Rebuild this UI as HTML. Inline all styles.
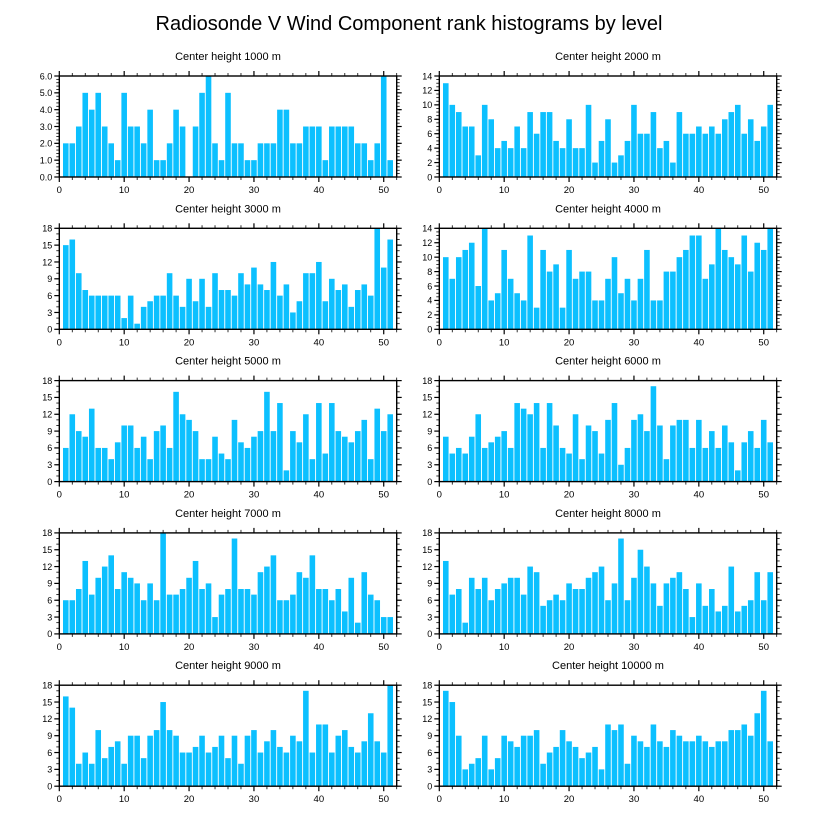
<!DOCTYPE html>
<html><head><meta charset="utf-8">
<style>
html,body{margin:0;padding:0;background:#fff;}
svg{display:block;font-family:"Liberation Sans",Arial,sans-serif;}
</style></head>
<body>
<svg id="chart" width="818" height="824" viewBox="0 0 818 824" xmlns="http://www.w3.org/2000/svg">
<text x="409" y="30" text-anchor="middle" font-size="20" fill="#000">Radiosonde V Wind Component rank histograms by level</text>
</svg>
<script>
const panelTitles = ["Center height 1000 m","Center height 2000 m","Center height 3000 m","Center height 4000 m","Center height 5000 m","Center height 6000 m","Center height 7000 m","Center height 8000 m","Center height 9000 m","Center height 10000 m"];
const h1000 = [2,2,3,5,4,5,3,2,1,5,3,3,2,4,1,1,2,4,3,0,3,5,6,2,1,5,2,2,1,1,2,2,2,4,4,2,2,3,3,3,1,3,3,3,3,2,2,1,2,6,1];
const h2000 = [13,10,9,7,7,3,10,8,4,5,4,7,4,9,6,9,9,5,4,8,4,4,10,2,5,8,2,3,5,10,6,6,9,4,5,2,9,6,6,7,6,7,6,8,9,10,6,8,5,7,10];
const h3000 = [15,16,10,7,6,6,6,6,6,2,6,1,4,5,6,6,10,6,4,9,5,9,4,10,7,7,6,10,8,11,8,7,12,6,8,3,5,10,10,12,5,9,7,8,4,7,8,6,18,11,16];
const h4000 = [10,7,10,11,12,6,14,4,5,11,7,5,4,13,3,11,8,9,3,11,7,8,8,4,4,7,10,5,7,4,7,11,4,4,8,8,10,11,13,13,7,9,14,11,10,9,13,8,12,11,14];
const h5000 = [6,12,9,8,13,6,6,4,7,10,10,6,8,4,9,10,6,16,12,11,9,4,4,8,5,4,11,7,6,8,9,16,9,14,2,9,7,12,4,14,5,14,9,8,7,9,11,4,13,9,12];
const h6000 = [8,5,6,5,8,12,6,7,8,9,6,14,13,12,14,6,14,10,6,5,12,4,10,9,5,11,14,3,6,11,12,9,17,10,4,10,11,11,6,11,6,9,6,10,7,2,7,9,6,11,7];
const h7000 = [6,6,8,13,7,10,12,14,8,11,10,9,6,9,6,18,7,7,8,10,13,8,9,3,7,8,17,8,8,7,11,12,14,6,6,7,11,10,14,8,8,6,8,4,10,2,11,7,6,3,3];
const h8000 = [13,7,8,2,10,8,10,6,8,9,10,10,7,12,11,5,6,7,6,9,8,8,10,11,12,6,9,17,6,10,15,12,9,5,9,10,11,8,3,9,5,8,4,5,12,4,5,6,11,6,11];
const h9000 = [16,14,4,6,4,10,5,7,8,4,9,9,5,9,10,15,10,9,6,6,7,9,6,7,9,5,9,4,9,10,6,8,10,7,6,9,8,17,6,11,11,6,9,10,7,6,8,13,8,6,18];
const h10000 = [17,15,9,3,4,5,9,3,5,9,8,7,9,9,10,4,6,7,10,8,7,5,6,7,3,11,10,11,4,9,8,7,11,8,7,10,9,8,8,9,8,7,8,8,10,10,11,9,13,17,8];
const yMaxes = [6,14,18,14,18,18,18,18,18,18];
const yMajorSteps = [1,2,3,2,3,3,3,3,3,3];
const yMinorSteps = [0.2,0.5,1,0.5,1,1,1,1,1,1];
const xTickLabels = [0,10,20,30,40,50];
const allSeries = [h1000,h2000,h3000,h4000,h5000,h6000,h7000,h8000,h9000,h10000];

const NS = "http://www.w3.org/2000/svg";
const svg = document.getElementById('chart');
function mk(tag, attrs, parent){
  const e = document.createElementNS(NS, tag);
  for (const k in attrs) e.setAttribute(k, attrs[k]);
  (parent||svg).appendChild(e);
  return e;
}
const colX = [59.3, 439.3];
const plotW = 337.4;
const rowY0 = 76, rowStep = 152.3, plotH = 101;
const xMax = 52;

allSeries.forEach((vals, p) => {
  const col = p % 2, row = Math.floor(p/2);
  const L = colX[col], T = rowY0 + row*rowStep, B = T + plotH, R = L + plotW;
  const ymax = yMaxes[p];
  const xs = v => L + v/xMax*plotW;
  const ys = v => B - v/ymax*plotH;
  const g = mk('g', {});
  
  
  const t = mk('text', {x:(L+R)/2, y:T-16, 'text-anchor':'middle', 'font-size':'11', fill:'#000'}, g);
  t.textContent = panelTitles[p];
  
  
  const bw = 0.86;
  vals.forEach((v, i) => {
    const c = i + 1;
    const r = mk('rect', {x:xs(c-bw/2), y:ys(v), width:xs(bw)-L, height:B-ys(v), fill:'#0cc0ff'}, g);
    
    
  });
  const frame = mk('rect', {x:L, y:T, width:plotW, height:plotH, fill:'none', stroke:'#000', 'stroke-width':'1.4'}, g);
  
  
  // x ticks
  for (let v = 0; v <= xMax; v += 2) {
    const major = v % 10 === 0;
    const len = major ? 5 : 3;
    const x = xs(v);
    mk('line', {x1:x, y1:B, x2:x, y2:B+len, stroke:'#000', 'stroke-width':major?1.2:0.8}, g);
    mk('line', {x1:x, y1:T, x2:x, y2:T-len, stroke:'#000', 'stroke-width':major?1.2:0.8}, g);
  }
  xTickLabels.forEach(v => {
    const tl = mk('text', {x:xs(v), y:B+16, 'text-anchor':'middle', 'font-size':'9.5', fill:'#000'}, g);
    tl.textContent = v;
    
    
  });
  // y ticks
  const nMin = Math.round(ymax / yMinorSteps[p]);
  for (let k = 0; k <= nMin; k++) {
    const v = k * yMinorSteps[p];
    const y = ys(v);
    mk('line', {x1:L, y1:y, x2:L-3, y2:y, stroke:'#000', 'stroke-width':0.8}, g);
    mk('line', {x1:R, y1:y, x2:R+3, y2:y, stroke:'#000', 'stroke-width':0.8}, g);
  }
  const nMaj = Math.round(ymax / yMajorSteps[p]);
  for (let k = 0; k <= nMaj; k++) {
    const v = k * yMajorSteps[p];
    const y = ys(v);
    mk('line', {x1:L, y1:y, x2:L-5, y2:y, stroke:'#000', 'stroke-width':1.2}, g);
    mk('line', {x1:R, y1:y, x2:R+5, y2:y, stroke:'#000', 'stroke-width':1.2}, g);
    const yl = mk('text', {x:L-7, y:y+3.3, 'text-anchor':'end', 'font-size':'9', fill:'#000'}, g);
    yl.textContent = ymax === 6 ? v.toFixed(1) : String(v);
    
    
  }
});
</script>
</body></html>
